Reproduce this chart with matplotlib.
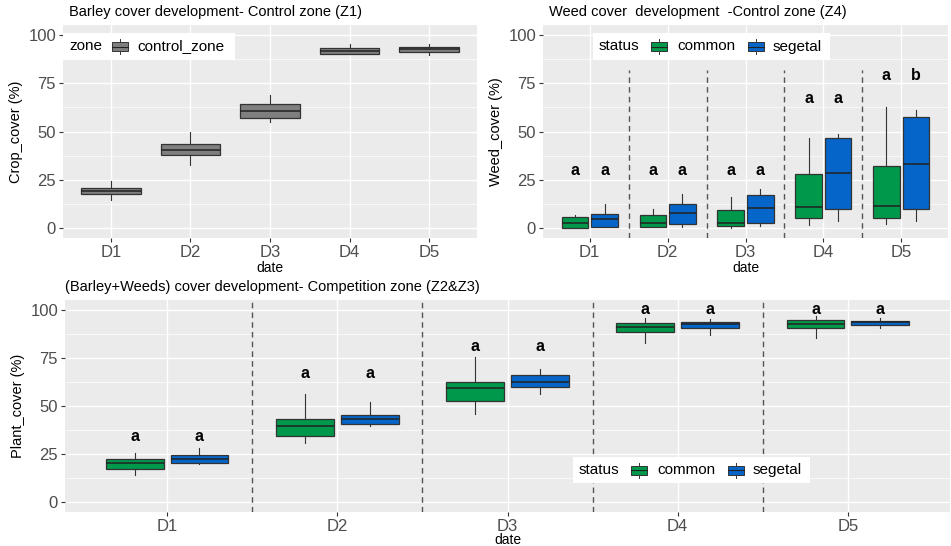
import matplotlib
matplotlib.use("Agg")
import matplotlib.pyplot as plt
from matplotlib.patches import Rectangle
import numpy as np

plt.rcParams['font.family'] = ['Liberation Sans', 'DejaVu Sans']

dates = ["D1", "D2", "D3", "D4", "D5"]

# control zone (Z1) crop cover: whislo, q1, median, q3, whishi
crop_lo = [14.8, 32.8, 55.0, 90.2, 89.7]
crop_q1 = [17.8, 37.9, 57.0, 90.2, 90.9]
crop_med = [19.4, 40.7, 60.5, 91.6, 92.5]
crop_q3 = [20.8, 43.4, 64.2, 93.1, 93.8]
crop_hi = [24.2, 49.9, 68.8, 95.4, 95.4]

# control zone (Z4) weed cover
weed_com_lo = [0.3, 0.9, 0.3, 1.7, 2.2]
weed_com_q1 = [0.3, 0.9, 1.2, 5.2, 5.2]
weed_com_med = [2.9, 2.9, 2.9, 10.8, 11.5]
weed_com_q3 = [6.0, 6.9, 9.5, 27.9, 32.2]
weed_com_hi = [6.9, 9.8, 16.0, 46.5, 62.5]
weed_seg_lo = [0.9, 0.9, 1.4, 3.8, 3.8]
weed_seg_q1 = [0.9, 2.1, 2.6, 9.8, 9.8]
weed_seg_med = [4.8, 7.7, 10.7, 28.7, 33.0]
weed_seg_q3 = [7.4, 12.6, 17.2, 46.5, 57.7]
weed_seg_hi = [12.6, 17.7, 20.1, 48.5, 61.1]
weed_letters_com = ["a", "a", "a", "a", "a"]
weed_letters_seg = ["a", "a", "a", "a", "b"]
weed_letter_y = [30, 30, 30, 67, 79]

# competition zone (Z2&Z3) plant cover
plant_com_lo = [14.3, 30.9, 46.0, 82.5, 85.4]
plant_com_q1 = [17.5, 34.4, 52.4, 88.5, 90.4]
plant_com_med = [20.3, 39.5, 59.3, 91.1, 92.4]
plant_com_q3 = [22.7, 43.3, 62.7, 93.3, 94.5]
plant_com_hi = [25.8, 56.4, 75.6, 95.7, 96.7]
plant_seg_lo = [19.8, 39.5, 56.4, 86.8, 90.5]
plant_seg_q1 = [20.6, 40.7, 59.6, 90.7, 91.8]
plant_seg_med = [22.7, 43.3, 62.4, 92.3, 93.6]
plant_seg_q3 = [24.4, 45.5, 66.2, 93.6, 94.3]
plant_seg_hi = [28.4, 52.1, 69.2, 95.4, 95.7]
plant_letters_com = ["a", "a", "a", "a", "a"]
plant_letters_seg = ["a", "a", "a", "a", "a"]
plant_letter_y = [34, 67, 81, 100, 100]

GREY = "#7f7f7f"
GREEN = "#00984a"
BLUE = "#0565c8"
EDGE = "#333333"
W, H = 951, 546


def stats(lo, q1, med, q3, hi):
    return [dict(whislo=a, q1=b, med=c, q3=d, whishi=e, fliers=[])
            for a, b, c, d, e in zip(lo, q1, med, q3, hi)]


def draw_boxes(ax, st, pos, width, color):
    ax.bxp(st, positions=pos, widths=width, patch_artist=True, showcaps=False,
           boxprops=dict(facecolor=color, edgecolor=EDGE, linewidth=0.9),
           medianprops=dict(color="#222222", linewidth=1.1),
           whiskerprops=dict(color=EDGE, linewidth=0.8), manage_ticks=False)


def style(ax, ylabel, xpad=1):
    ax.set_facecolor("#ebebeb")
    ax.set_xlim(0.4, 5.6)
    ax.set_ylim(-5, 105)
    ax.set_yticks([0, 25, 50, 75, 100])
    ax.set_yticks([12.5, 37.5, 62.5, 87.5], minor=True)
    ax.set_xticks(range(1, 6))
    ax.set_xticklabels(dates)
    ax.grid(which="major", color="white", linewidth=1.0)
    ax.grid(which="minor", axis="y", color="white", linewidth=0.5)
    ax.set_axisbelow(True)
    for s in ax.spines.values():
        s.set_visible(False)
    ax.tick_params(which="major", length=3, color="#333333", labelcolor="#4d4d4d",
                   labelsize=12, pad=2)
    ax.tick_params(which="minor", length=0)
    ax.set_xlabel("date", fontsize=10, labelpad=xpad)
    ax.set_ylabel(ylabel, fontsize=10.5, labelpad=4)


def legend(fig, x0, y0, w, h, title, items):
    # items: (key offset px, text offset px, label, color), relative to x0
    f = lambda px, py: (px / W, 1 - py / H)
    fig.patches.append(Rectangle(f(x0, y0 + h), w / W, h / H, transform=fig.transFigure,
                                 facecolor="white", edgecolor="none", zorder=5))
    yc = y0 + h / 2
    fig.text(*f(x0 + 6, yc), title, fontsize=11, va="center", ha="left", zorder=6)
    for kx, tx, lab, col in items:
        kw, kh = 16, 9
        fig.patches.append(Rectangle(f(x0 + kx, yc + kh / 2), kw / W, kh / H,
                                     transform=fig.transFigure, facecolor=col,
                                     edgecolor=EDGE, linewidth=0.7, zorder=6))
        fig.lines.append(plt.Line2D([(x0 + kx) / W, (x0 + kx + kw) / W], [1 - yc / H] * 2,
                                    transform=fig.transFigure, color="#222222", lw=0.8, zorder=7))
        for a, b in [(yc - kh / 2, yc - kh / 2 - 3), (yc + kh / 2, yc + kh / 2 + 3)]:
            fig.lines.append(plt.Line2D([(x0 + kx + kw / 2) / W] * 2, [1 - a / H, 1 - b / H],
                                        transform=fig.transFigure, color=EDGE, lw=0.7, zorder=7))
        fig.text(*f(x0 + tx, yc), lab, fontsize=11, va="center", ha="left", zorder=6)


fig = plt.figure(figsize=(9.51, 5.46), dpi=100)
ax1 = fig.add_axes([63 / W, 1 - 238 / H, 414 / W, 213 / H])
ax2 = fig.add_axes([543 / W, 1 - 238 / H, 405 / W, 213 / H])
ax3 = fig.add_axes([65 / W, 1 - 512 / H, 885 / W, 212 / H])

x = np.arange(1, 6)
off, bw = 0.19, 0.34

# panel 1
style(ax1, "Crop_cover (%)")
draw_boxes(ax1, stats(crop_lo, crop_q1, crop_med, crop_q3, crop_hi), x, 0.75, GREY)
ax1.text(0.015, 1.03, "Barley cover development- Control zone (Z1)", transform=ax1.transAxes,
         fontsize=10.5, ha="left", va="bottom")

# panel 2
style(ax2, "Weed_cover (%)")
draw_boxes(ax2, stats(weed_com_lo, weed_com_q1, weed_com_med, weed_com_q3, weed_com_hi),
           x - off, bw, GREEN)
draw_boxes(ax2, stats(weed_seg_lo, weed_seg_q1, weed_seg_med, weed_seg_q3, weed_seg_hi),
           x + off, bw, BLUE)
ax2.vlines(x[:-1] + 0.5, -5, 82, colors="#555555", linestyles=(0, (4, 3)), linewidth=1.0)
for i in range(5):
    ax2.text(x[i] - off, weed_letter_y[i], weed_letters_com[i], ha="center", va="center",
             fontsize=11.5, fontweight="bold")
    ax2.text(x[i] + off, weed_letter_y[i], weed_letters_seg[i], ha="center", va="center",
             fontsize=11.5, fontweight="bold")
ax2.text(0.015, 1.03, "Weed cover  development  -Control zone (Z4)", transform=ax2.transAxes,
         fontsize=10.5, ha="left", va="bottom")

# panel 3
style(ax3, "Plant_cover (%)", xpad=-1)
draw_boxes(ax3, stats(plant_com_lo, plant_com_q1, plant_com_med, plant_com_q3, plant_com_hi),
           x - off, bw, GREEN)
draw_boxes(ax3, stats(plant_seg_lo, plant_seg_q1, plant_seg_med, plant_seg_q3, plant_seg_hi),
           x + off, bw, BLUE)
for xv in x[:-1] + 0.5:
    ax3.axvline(xv, color="#555555", linestyle=(0, (4, 3)), linewidth=1.0)
for i in range(5):
    ax3.text(x[i] - off, plant_letter_y[i], plant_letters_com[i], ha="center", va="center",
             fontsize=11.5, fontweight="bold")
    ax3.text(x[i] + off, plant_letter_y[i], plant_letters_seg[i], ha="center", va="center",
             fontsize=11.5, fontweight="bold")
ax3.text(0.0, 1.03, "(Barley+Weeds) cover development- Competition zone (Z2&Z3)",
         transform=ax3.transAxes, fontsize=10.5, ha="left", va="bottom")

legend(fig, 63, 33, 172, 27, "zone", [(49, 74, "control_zone", GREY)])
legend(fig, 593, 33, 237, 27, "status", [(58, 84, "common", GREEN), (155, 180, "segetal", BLUE)])
legend(fig, 573, 457, 237, 26, "status", [(58, 84, "common", GREEN), (155, 180, "segetal", BLUE)])

fig.savefig("out.png", dpi=100, facecolor="white")
